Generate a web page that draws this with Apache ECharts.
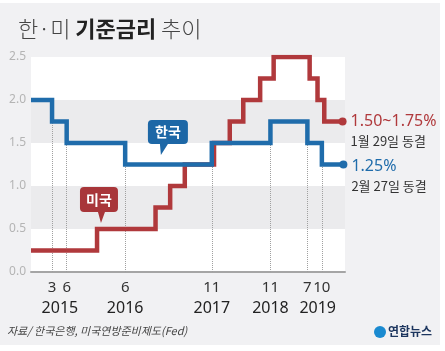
<!DOCTYPE html>
<html>
<head>
<meta charset="utf-8">
<script src="https://cdn.jsdelivr.net/npm/echarts@6/dist/echarts.min.js"></script>
<style>
  html, body { margin: 0; padding: 0; background: #fff; }
  #chart { width: 445px; height: 351px; }
</style>
</head>
<body>
<div id="chart"></div>
<script>
  // 한국은행 기준금리
  const krDates = ['2014-11-01', '2015-03-12', '2015-06-11', '2016-06-09', '2017-11-30',
                   '2018-11-30', '2019-07-18', '2019-10-16', '2020-02-27'];
  const krRates = [2.0, 1.75, 1.5, 1.25, 1.5, 1.75, 1.5, 1.25, 1.25];

  // 미국 기준금리 (상단)
  const usDates = ['2014-11-01', '2015-12-17', '2016-12-15', '2017-03-16', '2017-06-15',
                   '2017-12-14', '2018-03-22', '2018-06-14', '2018-09-27', '2018-12-20',
                   '2019-08-01', '2019-09-19', '2019-10-31', '2020-02-22'];
  const usRates = [0.25, 0.5, 0.75, 1.0, 1.25, 1.5, 1.75, 2.0, 2.25, 2.5, 2.25, 2.0, 1.75, 1.75];

  // 축 라벨
  const yearLabels = ['2015', '2016', '2017', '2018', '2019'];
  const yearTickDates = ['2015-04-30', '2016-06-09', '2017-11-30', '2018-11-30', '2019-09-20'];
  const endRateText = { kr: '1.25%', us: '1.50~1.75%' };
  const endNoteText = { kr: '2월 27일 동결', us: '1월 29일 동결' };

  const KR = '#1f6cab';
  const US = '#b0393c';
  const NARROW = "'Liberation Sans Narrow', 'Noto Sans', sans-serif";

  // 날짜 -> 타임스탬프 (x축은 value 축으로 씀)
  const t = d => new Date(d + 'T00:00:00').getTime();
  const xMin = t('2014-11-01');
  const xMax = t('2020-03-08');
  const monthTicks = krDates.slice(1, krDates.length - 1).map(t);
  const yearTicks = yearTickDates.map(t);

  function buildData(dates, rates, color, key) {
    return dates.map((d, i) => {
      if (i < dates.length - 1) return [t(d), rates[i]];
      return {
        value: [t(d), rates[i]],
        symbol: 'circle',
        symbolSize: 8,
        itemStyle: { color: color },
        label: {
          show: true,
          position: 'right',
          distance: 4,
          offset: [0, key === 'us' ? 10 : 12],
          formatter: '{a|' + endRateText[key] + '}\n{b|' + endNoteText[key] + '}',
          rich: {
            a: { fontSize: 16, color: color, lineHeight: 19, fontFamily: "'Noto Sans', sans-serif" },
            b: { fontSize: 13, color: '#333', lineHeight: 20, fontFamily: "'Noto Sans CJK KR', sans-serif" }
          }
        }
      };
    });
  }

  // 한국 금리 변경 시점의 점선
  const dropLines = krDates.slice(1, krDates.length - 1).map((d, i) => [
    { coord: [t(d), 0] },
    { coord: [t(d), Math.min(krRates[i], krRates[i + 1])] }
  ]);

  const chart = echarts.init(document.getElementById('chart'));
  chart.setOption({
    backgroundColor: '#f1f1f3',
    animation: false,
    title: {
      text: '{a|한·미 }{b|기준금리}{a| 추이}',
      left: 13,
      top: 13,
      textStyle: {
        rich: {
          a: { fontSize: 22, color: '#444', fontWeight: 300, fontFamily: "'Noto Sans CJK KR', sans-serif" },
          b: { fontSize: 22, color: '#222', fontWeight: 'bold', fontFamily: "'Noto Sans CJK KR', sans-serif" }
        }
      }
    },
    grid: { left: 31, right: 100, top: 57, bottom: 79 },
    xAxis: [
      {
        type: 'value',
        min: xMin,
        max: xMax,
        axisLine: { show: true, lineStyle: { color: '#a5a5a5', width: 2 } },
        axisTick: { show: false },
        splitLine: { show: false },
        axisLabel: {
          customValues: monthTicks,
          formatter: v => String(new Date(v).getMonth() + 1),
          margin: 8,
          fontSize: 15,
          color: '#333',
          fontFamily: NARROW
        }
      },
      {
        type: 'value',
        min: xMin,
        max: xMax,
        position: 'bottom',
        offset: 21,
        axisLine: { show: false },
        axisTick: { show: false },
        splitLine: { show: false },
        axisLabel: {
          customValues: yearTicks,
          formatter: v => yearLabels[yearTicks.indexOf(v)] || '',
          margin: 7,
          fontSize: 16,
          color: '#222',
          fontFamily: NARROW
        }
      }
    ],
    yAxis: {
      type: 'value',
      min: 0,
      max: 2.5,
      interval: 0.5,
      axisLine: { show: false },
      axisTick: { show: false },
      splitLine: { show: false },
      splitArea: { show: true, areaStyle: { color: ['#ffffff', '#ebebed'] } },
      axisLabel: {
        formatter: v => v.toFixed(1),
        color: '#b4b4b4',
        fontSize: 12,
        margin: 5,
        fontFamily: NARROW
      }
    },
    series: [
      {
        name: '미국',
        type: 'line',
        step: 'end',
        showSymbol: true,
        symbol: 'none',
        data: buildData(usDates, usRates, US, 'us'),
        lineStyle: { color: US, width: 4.5, join: 'miter' },
        itemStyle: { color: US },
        z: 3,
        markPoint: {
          silent: true,
          data: [{
            coord: [t('2015-12-29'), 0.5],
            symbol: 'path://M4,0H34Q38,0,38,4V21Q38,25,34,25H25L21,36L18,25H4Q0,25,0,21V4Q0,0,4,0Z',
            symbolSize: [38, 36],
            symbolOffset: [0, -24],
            itemStyle: { color: '#a8363a' },
            label: {
              show: true, position: 'inside', offset: [0, -5.5], formatter: '미국',
              color: '#fff', fontSize: 14, fontWeight: 'bold',
              fontFamily: "'Noto Sans CJK KR', sans-serif"
            }
          }]
        }
      },
      {
        name: '한국',
        type: 'line',
        step: 'end',
        showSymbol: true,
        symbol: 'none',
        data: buildData(krDates, krRates, KR, 'kr'),
        lineStyle: { color: KR, width: 4.5, join: 'miter' },
        itemStyle: { color: KR },
        z: 4,
        markLine: {
          silent: true,
          symbol: 'none',
          label: { show: false },
          lineStyle: { color: '#a0a0a0', type: 'dotted', width: 1 },
          z: 1,
          data: dropLines
        },
        markPoint: {
          silent: true,
          data: [{
            coord: [t('2017-03-02'), 1.25],
            symbol: 'path://M4,0H36Q40,0,40,4V20Q40,24,36,24H20L13,35L12,24H4Q0,24,0,20V4Q0,0,4,0Z',
            symbolSize: [40, 35],
            symbolOffset: [0, -27],
            itemStyle: { color: '#1d67a6' },
            label: {
              show: true, position: 'inside', offset: [0, -5.5], formatter: '한국',
              color: '#fff', fontSize: 14, fontWeight: 'bold',
              fontFamily: "'Noto Sans CJK KR', sans-serif"
            }
          }]
        }
      }
    ],
    graphic: [
      { type: 'rect', left: 0, top: 0, shape: { width: 445, height: 3 }, style: { fill: '#fff' } },
      { type: 'rect', left: 440, top: 0, shape: { width: 5, height: 351 }, style: { fill: '#fff' } },
      { type: 'rect', left: 0, top: 345, shape: { width: 445, height: 6 }, style: { fill: '#fff' } },
      {
        type: 'text', left: 7, top: 325,
        style: {
          text: '자료/ 한국은행, 미국연방준비제도(Fed)',
          fill: '#444', fontSize: 11, fontStyle: 'italic',
          fontFamily: "'Noto Sans CJK KR', sans-serif"
        }
      },
      { type: 'circle', left: 374, top: 326, shape: { r: 6 }, style: { fill: '#1a8ad0' } },
      {
        type: 'text', left: 388, top: 325,
        style: {
          text: '연합뉴스', fill: '#1c355e', fontSize: 12, fontWeight: 'bold',
          fontFamily: "'Noto Sans CJK KR', sans-serif"
        }
      }
    ]
  });
</script>
</body>
</html>
